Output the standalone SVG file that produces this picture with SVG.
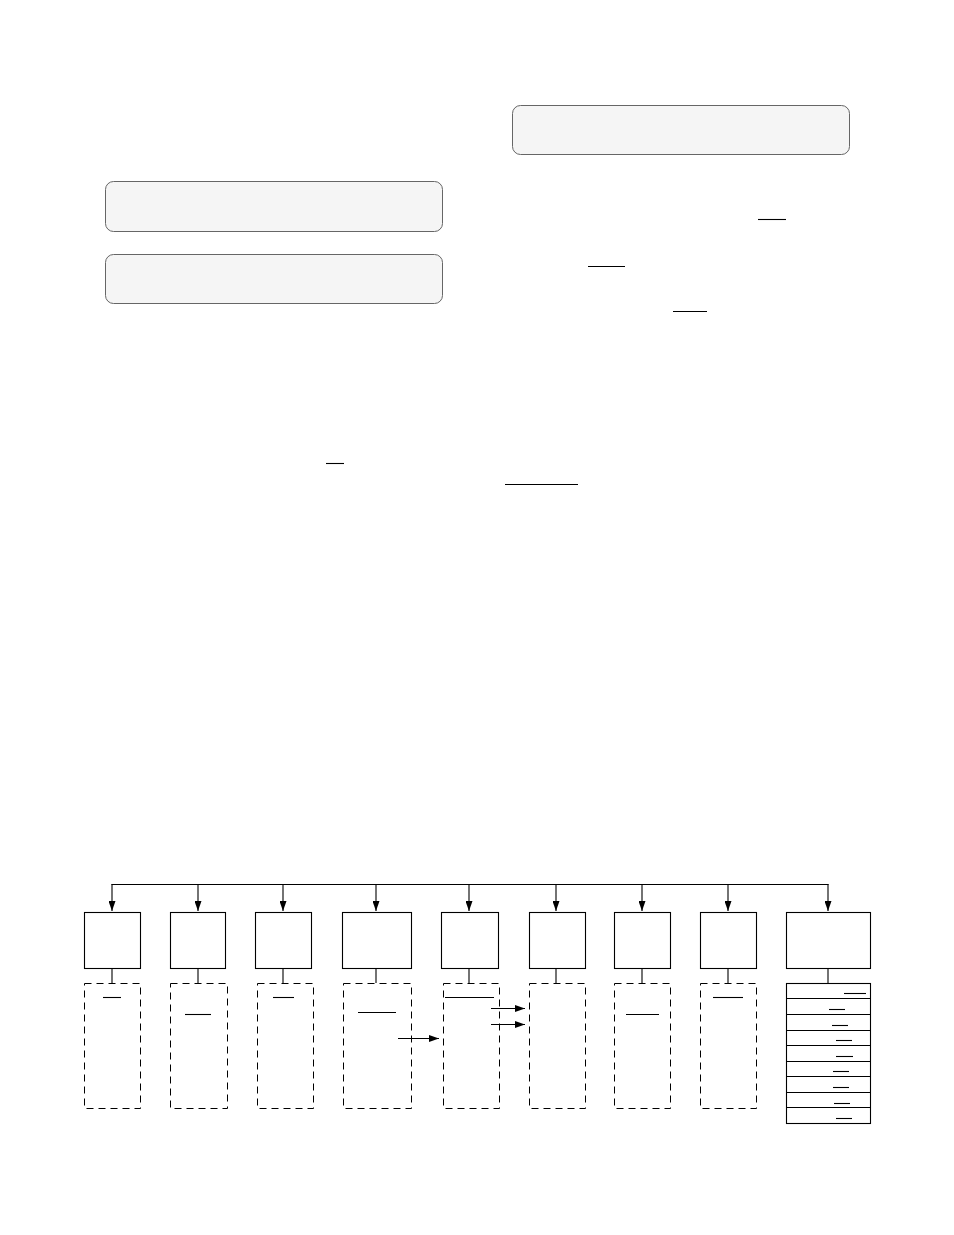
<svg xmlns="http://www.w3.org/2000/svg" width="954" height="1235" viewBox="0 0 954 1235">
<style>
.panel{fill:#f5f5f5;stroke:#666;stroke-width:1}
.box{fill:#fff;stroke:#000;stroke-width:1.1}
.dash{fill:none;stroke:#000;stroke-width:1;stroke-dasharray:7,5}
.ul{stroke:#000;stroke-width:1.1}
.wire{fill:none;stroke:#000;stroke-width:1.1}
</style>
<defs>
<marker id="ah" markerWidth="10" markerHeight="7" refX="10" refY="3.5" orient="auto" markerUnits="userSpaceOnUse">
<path d="M0,0 L10,3.5 L0,7 Z" fill="#000"/>
</marker>
</defs>
<rect width="954" height="1235" fill="#fff"/>
<g id="panel-top-right"><rect class="panel" x="512.5" y="105.5" width="337" height="49" rx="8"/></g>
<g id="panel-left-1"><rect class="panel" x="105.5" y="181.5" width="337" height="50" rx="8"/></g>
<g id="panel-left-2"><rect class="panel" x="105.5" y="254.5" width="337" height="49" rx="8"/></g>
<g id="underlines-upper">
<line class="ul" x1="758" y1="219.5" x2="786" y2="219.5"/>
<line class="ul" x1="588" y1="266.5" x2="625" y2="266.5"/>
<line class="ul" x1="673" y1="311.5" x2="707" y2="311.5"/>
<line class="ul" x1="326" y1="463.5" x2="344" y2="463.5"/>
<line class="ul" x1="505" y1="484.5" x2="578" y2="484.5"/>
</g>
<g id="connectors">
<line class="wire" x1="111.5" y1="884.5" x2="828.5" y2="884.5"/>
<line class="wire" x1="112" y1="884" x2="112" y2="911" marker-end="url(#ah)"/>
<line class="wire" x1="198" y1="884" x2="198" y2="911" marker-end="url(#ah)"/>
<line class="wire" x1="283" y1="884" x2="283" y2="911" marker-end="url(#ah)"/>
<line class="wire" x1="376" y1="884" x2="376" y2="911" marker-end="url(#ah)"/>
<line class="wire" x1="469" y1="884" x2="469" y2="911" marker-end="url(#ah)"/>
<line class="wire" x1="556" y1="884" x2="556" y2="911" marker-end="url(#ah)"/>
<line class="wire" x1="642" y1="884" x2="642" y2="911" marker-end="url(#ah)"/>
<line class="wire" x1="728" y1="884" x2="728" y2="911" marker-end="url(#ah)"/>
<line class="wire" x1="828" y1="884" x2="828" y2="911" marker-end="url(#ah)"/>
<line class="wire" x1="112" y1="968" x2="112" y2="983"/>
<line class="wire" x1="198" y1="968" x2="198" y2="983"/>
<line class="wire" x1="283" y1="968" x2="283" y2="983"/>
<line class="wire" x1="376" y1="968" x2="376" y2="983"/>
<line class="wire" x1="469" y1="968" x2="469" y2="983"/>
<line class="wire" x1="556" y1="968" x2="556" y2="983"/>
<line class="wire" x1="642" y1="968" x2="642" y2="983"/>
<line class="wire" x1="728" y1="968" x2="728" y2="983"/>
<line class="wire" x1="828" y1="968" x2="828" y2="983"/>
<line class="wire" x1="398" y1="1038.5" x2="439" y2="1038.5" marker-end="url(#ah)"/>
<line class="wire" x1="491" y1="1008.5" x2="525" y2="1008.5" marker-end="url(#ah)"/>
<line class="wire" x1="491" y1="1024.5" x2="525" y2="1024.5" marker-end="url(#ah)"/>
</g>
<g id="node-1"><rect class="box" x="84.5" y="912.5" width="56" height="56"/><rect class="dash" x="84.5" y="983.5" width="56" height="125"/><line class="ul" x1="103" y1="997.5" x2="121" y2="997.5"/></g>
<g id="node-2"><rect class="box" x="170.5" y="912.5" width="55" height="56"/><rect class="dash" x="170.5" y="983.5" width="57" height="125"/><line class="ul" x1="185" y1="1014.5" x2="211" y2="1014.5"/></g>
<g id="node-3"><rect class="box" x="255.5" y="912.5" width="56" height="56"/><rect class="dash" x="257.5" y="983.5" width="56" height="125"/><line class="ul" x1="273" y1="997.5" x2="294" y2="997.5"/></g>
<g id="node-4"><rect class="box" x="342.5" y="912.5" width="69" height="56"/><rect class="dash" x="343.5" y="983.5" width="68" height="125"/><line class="ul" x1="358" y1="1012.5" x2="396" y2="1012.5"/></g>
<g id="node-5"><rect class="box" x="441.5" y="912.5" width="57" height="56"/><rect class="dash" x="443.5" y="983.5" width="56" height="125"/><line class="ul" x1="445" y1="997.5" x2="494" y2="997.5"/></g>
<g id="node-6"><rect class="box" x="529.5" y="912.5" width="56" height="56"/><rect class="dash" x="529.5" y="983.5" width="56" height="125"/></g>
<g id="node-7"><rect class="box" x="614.5" y="912.5" width="56" height="56"/><rect class="dash" x="614.5" y="983.5" width="56" height="125"/><line class="ul" x1="626" y1="1014.5" x2="659" y2="1014.5"/></g>
<g id="node-8"><rect class="box" x="700.5" y="912.5" width="56" height="56"/><rect class="dash" x="700.5" y="983.5" width="56" height="125"/><line class="ul" x1="713" y1="997.5" x2="743" y2="997.5"/></g>
<g id="node-9"><rect class="box" x="786.5" y="912.5" width="84" height="56"/>
<rect class="box" x="786.5" y="983.5" width="84" height="140"/>
<line class="ul" x1="786" y1="998.5" x2="870" y2="998.5"/>
<line class="ul" x1="786" y1="1014.5" x2="870" y2="1014.5"/>
<line class="ul" x1="786" y1="1030.5" x2="870" y2="1030.5"/>
<line class="ul" x1="786" y1="1045.5" x2="870" y2="1045.5"/>
<line class="ul" x1="786" y1="1061.5" x2="870" y2="1061.5"/>
<line class="ul" x1="786" y1="1076.5" x2="870" y2="1076.5"/>
<line class="ul" x1="786" y1="1092.5" x2="870" y2="1092.5"/>
<line class="ul" x1="786" y1="1107.5" x2="870" y2="1107.5"/>
<line class="ul" x1="844" y1="993.5" x2="866" y2="993.5"/>
<line class="ul" x1="829" y1="1009.5" x2="845" y2="1009.5"/>
<line class="ul" x1="832" y1="1025.5" x2="848" y2="1025.5"/>
<line class="ul" x1="836" y1="1040.5" x2="852" y2="1040.5"/>
<line class="ul" x1="836" y1="1056.5" x2="853" y2="1056.5"/>
<line class="ul" x1="833" y1="1071.5" x2="849" y2="1071.5"/>
<line class="ul" x1="833" y1="1087.5" x2="849" y2="1087.5"/>
<line class="ul" x1="834" y1="1103.5" x2="850" y2="1103.5"/>
<line class="ul" x1="836" y1="1118.5" x2="852" y2="1118.5"/>
</g>
</svg>
